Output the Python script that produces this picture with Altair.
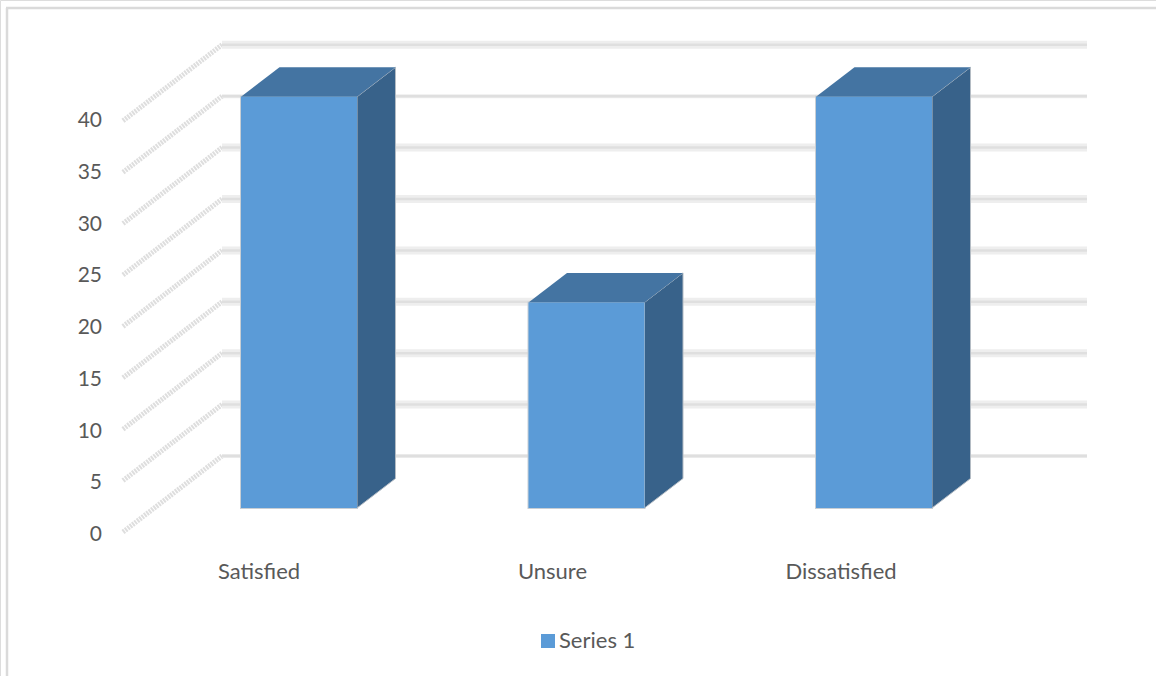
import altair as alt
import pandas as pd

# Survey responses
categories = ["Satisfied", "Unsure", "Dissatisfied"]
responses = [40, 20, 40]
series_name = "Series 1"
tick_values = [0, 5, 10, 15, 20, 25, 30, 35, 40]

# Chart units: one category step on x, one response on y
PX_PER_CAT = 287.5
PX_PER_VAL = 10.28
ORIGIN_X = 299.0
ORIGIN_Y = 508.0
W, H = 1156, 676

BAR_W = 116 / PX_PER_CAT
BAR_DX = 38.5 / PX_PER_CAT
BAR_DY = 29.5 / PX_PER_VAL

WALL_LEFT = (222 - ORIGIN_X) / PX_PER_CAT
WALL_RIGHT = (1087 - ORIGIN_X) / PX_PER_CAT
WALL_LIFT = 52 / PX_PER_VAL
FLOOR_FRONT = (123 - ORIGIN_X) / PX_PER_CAT
FLOOR_DROP = 24 / PX_PER_VAL
TICK_X = (102 - ORIGIN_X) / PX_PER_CAT
TICK_BASE = -27 / PX_PER_VAL
TICK_STRETCH = 10.35 / PX_PER_VAL
LABEL_Y = (ORIGIN_Y - 572) / PX_PER_VAL
LABEL_SHIFT = [-40 / PX_PER_CAT, -34 / PX_PER_CAT, -33 / PX_PER_CAT]

x_scale = alt.Scale(domain=[-ORIGIN_X / PX_PER_CAT, (W - ORIGIN_X) / PX_PER_CAT], range=[0, W], nice=False, zero=False)
y_scale = alt.Scale(domain=[(ORIGIN_Y - H) / PX_PER_VAL, ORIGIN_Y / PX_PER_VAL], range=[H, 0], nice=False, zero=False)

X = alt.X("x:Q", scale=x_scale, axis=None)
Y = alt.Y("y:Q", scale=y_scale, axis=None)
X_FREE = alt.X("x:Q", scale=x_scale, axis=None, stack=None)
Y_FREE = alt.Y("y:Q", scale=y_scale, axis=None, stack=None)

front_rows, top_rows, side_rows = [], [], []
for i, (cat, v) in enumerate(zip(categories, responses)):
    left, right = i - BAR_W / 2, i + BAR_W / 2
    front_rows.append(dict(cat=cat, x=left, x2=right, y=0, y2=v, series=series_name))
    top_rows += [
        dict(cat=cat, x=left, y=v, y2=v),
        dict(cat=cat, x=left + BAR_DX, y=v, y2=v + BAR_DY),
        dict(cat=cat, x=right, y=v, y2=v + BAR_DY),
        dict(cat=cat, x=right + BAR_DX, y=v + BAR_DY, y2=v + BAR_DY),
    ]
    side_rows += [
        dict(cat=cat, x=right, y=0, y2=v),
        dict(cat=cat, x=right + BAR_DX, y=BAR_DY, y2=v + BAR_DY),
    ]

wall = pd.DataFrame(
    [dict(v=t, x=WALL_LEFT, x2=WALL_RIGHT, y=t + WALL_LIFT) for t in tick_values]
)
floor = pd.DataFrame(
    [dict(v=t, x=FLOOR_FRONT, x2=WALL_LEFT, y=t - FLOOR_DROP, y2=t + WALL_LIFT) for t in tick_values]
)
ticks = pd.DataFrame(
    [dict(x=TICK_X, y=TICK_BASE + t * TICK_STRETCH, label=str(t)) for t in tick_values]
)
cat_labels = pd.DataFrame(
    [dict(x=i + s, y=LABEL_Y, label=c) for i, (c, s) in enumerate(zip(categories, LABEL_SHIFT))]
)

# Frame around the chart, open on the right and bottom
frame_left = alt.Chart(pd.DataFrame({"a": [0]})).mark_rule(color="#dadada", strokeWidth=2.5).encode(
    x=alt.value(7), y=alt.value(8), y2=alt.value(H)
)
frame_top = alt.Chart(pd.DataFrame({"a": [0]})).mark_rule(color="#dadada", strokeWidth=2.5).encode(
    x=alt.value(6), x2=alt.value(W), y=alt.value(8)
)

floor_lines = alt.Chart(floor).mark_rule(color="#dedede", strokeWidth=5, strokeDash=[2, 1], strokeCap="butt").encode(
    x=X, x2="x2:Q", y=Y, y2="y2:Q"
)
wall_glow = alt.Chart(wall).mark_rule(strokeCap="butt", color="#eeeeee").encode(
    x=X, x2="x2:Q", y=Y,
    strokeWidth=alt.condition("datum.v === 0 || datum.v === 35", alt.value(4), alt.value(8)),
)
wall_lines = alt.Chart(wall).mark_rule(color="#dfdfdf", strokeWidth=2.5, strokeCap="butt").encode(
    x=X, x2="x2:Q", y=Y
)

# Soft grey edge around each column sits under its faces
front_edge = alt.Chart(pd.DataFrame(front_rows)).mark_rect(fill="#5b9bd7", stroke="#c8ced4", strokeWidth=2).encode(
    x=X, x2="x2:Q", y=Y, y2="y2:Q"
)
side_faces = alt.Chart(pd.DataFrame(side_rows)).mark_area(
    orient="vertical", color="#38628a", line=False, opacity=1, stroke="#b4bcc4", strokeWidth=1
).encode(x=X_FREE, y=Y_FREE, y2="y2:Q", detail="cat:N")
top_faces = alt.Chart(pd.DataFrame(top_rows)).mark_area(
    orient="vertical", color="#4474a2", line=False, opacity=1
).encode(x=X_FREE, y=Y_FREE, y2="y2:Q", detail="cat:N")
front_faces = alt.Chart(pd.DataFrame(front_rows)).mark_rect().encode(
    x=X, x2="x2:Q", y=Y, y2="y2:Q",
    color=alt.Color(
        "series:N",
        scale=alt.Scale(domain=[series_name], range=["#5b9bd7"]),
        legend=alt.Legend(
            title=None,
            orient="none",
            legendX=537,
            legendY=630,
            symbolType="square",
            symbolSize=196,
            symbolStrokeWidth=0,
            labelFont="Lato",
            labelFontSize=22,
            labelColor="#595959",
            labelOffset=0,
        ),
    ),
)

tick_text = alt.Chart(ticks).mark_text(font="Lato", fontSize=21, color="#595959", align="right", baseline="middle").encode(
    x=X, y=Y, text="label:N"
)
cat_text = alt.Chart(cat_labels).mark_text(font="Lato", fontSize=22, color="#595959", align="center", baseline="middle").encode(
    x=X, y=Y, text="label:N"
)

chart = (
    alt.layer(
        frame_left, frame_top, floor_lines, wall_glow, wall_lines,
        front_edge, side_faces, top_faces, front_faces, tick_text, cat_text,
    )
    .properties(width=W, height=H, padding=0, autosize=alt.AutoSizeParams(type="none"))
    .configure_view(stroke=None)
    .configure(background="#ffffff")
)

chart.save("out.html", embed_options={"renderer": "svg", "actions": False})
